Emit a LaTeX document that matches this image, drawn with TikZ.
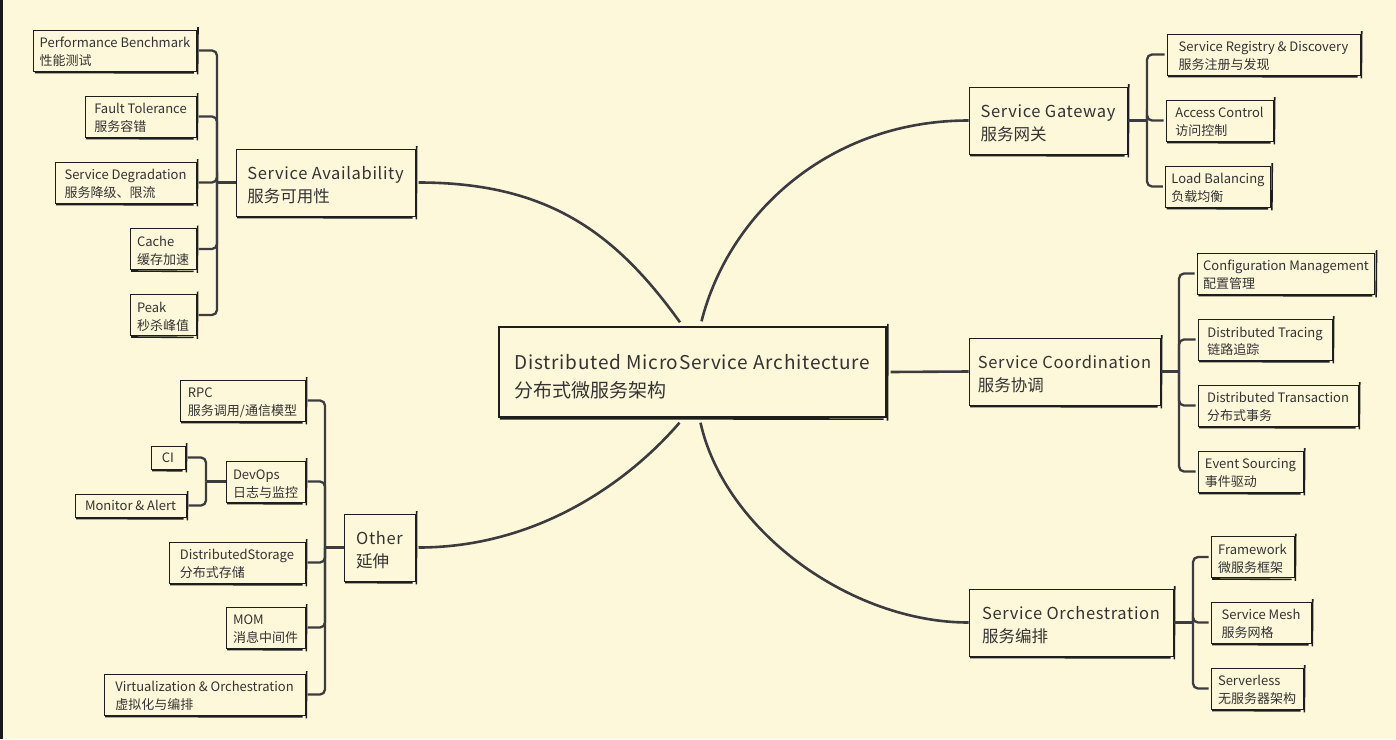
\documentclass[tikz,border=0pt]{standalone}
\usepackage{fontspec}
\setmainfont{Noto Sans CJK SC}
\newfontfamily\spaced{Noto Sans CJK SC}[LetterSpace=4]
\newcommand\wideline[1]{{\spaced #1}}
\definecolor{paper}{HTML}{FEF8DA}
\definecolor{ink}{HTML}{333333}
\definecolor{wire}{HTML}{3C3C40}
\definecolor{edgeline}{HTML}{1E1E1E}
\begin{document}
\begin{tikzpicture}[x=0.5pt, y=-0.5pt,
        skedge/.style={draw=edgeline, line width=0.8pt},
        sketchy/.style={draw=edgeline, line width=0.5pt, fill=paper, text=ink, align=left,
            inner xsep=3pt, inner ysep=0pt,
            append after command={
                ([shift={(0.6pt,1.2pt)}]\tikzlastnode.north east) edge[skedge] ([shift={(0.4pt,-1.4pt)}]\tikzlastnode.south east)
                ([shift={(0.8pt,-0.5pt)}]\tikzlastnode.south west) edge[skedge] ([shift={(-1.5pt,-0.7pt)}]\tikzlastnode.south east)}},
        leafbox/.style={sketchy, font=\fontsize{6.5}{9}\selectfont, minimum height=20.5pt,
            execute at begin node={\rule{0pt}{16pt}}},
        tagbox/.style={sketchy, font=\fontsize{6.5}{9}\selectfont, minimum height=11.5pt},
        topicbox/.style={sketchy, font=\fontsize{8.25}{11.5}\selectfont, minimum height=33.5pt,
            execute at begin node={\rule{0pt}{20.4pt}}},
        rootbox/.style={sketchy, font=\fontsize{9.5}{13.75}\selectfont, minimum height=45pt, line width=0.7pt,
            execute at begin node={\rule{0pt}{26pt}}},
        branch/.style={draw=wire, line width=1.15pt, rounded corners=2.5pt},
        curve/.style={draw=wire, line width=1.3pt}]

    \fill[paper] (0,0) rectangle (1396,739);
    \useasboundingbox (0,0) rectangle (1396,739);
    \fill[black!90] (0,0) rectangle (2.5,739);

    % centre
    \node[rootbox, minimum width=193.5pt] (root) at (692.5,372) {\wideline{Distributed MicroService Architecture}\\分布式微服务架构};

    % service availability
    \node[topicbox, minimum width=89.5pt] (sa) at (325.5,182.5) {\wideline{Service Availability}\\服务可用性};
    \node[leafbox, minimum width=81pt] (pb) at (115,50.5) {Performance Benchmark\\性能测试};
    \node[leafbox, minimum width=55.5pt] (ft) at (140.5,116.5) {Fault Tolerance\\服务容错};
    \node[leafbox, minimum width=70.5pt] (sd) at (125.5,182.5) {Service Degradation\\服务降级、限流};
    \node[leafbox, minimum width=33pt] (cache) at (163,249) {Cache\\缓存加速};
    \node[leafbox, minimum width=33pt] (peak) at (163,315) {Peak\\秒杀峰值};

    % other
    \node[topicbox, minimum width=35.5pt] (other) at (379.5,547.5) {\wideline{Other}\\延伸};
    \node[leafbox, minimum width=62.5pt] (rpc) at (242.5,400.5) {RPC\\服务调用/通信模型};
    \node[leafbox, minimum width=39.5pt] (devops) at (265.5,481.5) {DevOps\\日志与监控};
    \node[tagbox, minimum width=17pt] (ci) at (168,457.5) {CI};
    \node[tagbox, minimum width=55.5pt] (ma) at (130.5,505.5) {Monitor \& Alert};
    \node[leafbox, minimum width=68pt] (ds) at (237,562.5) {DistributedStorage\\分布式存储};
    \node[leafbox, minimum width=39.5pt] (mom) at (265.5,627.5) {MOM\\消息中间件};
    \node[leafbox, minimum width=100.5pt] (vo) at (204.5,694.5) {Virtualization \& Orchestration\\虚拟化与编排};

    % gateway
    \node[topicbox, minimum width=79pt] (gw) at (1048,120.5) {\wideline{Service Gateway}\\服务网关};
    \node[leafbox, minimum width=96.5pt] (srd) at (1263.5,54.5) {Service Registry \& Discovery\\服务注册与发现};
    \node[leafbox, minimum width=53.5pt] (ac) at (1219.5,120.5) {Access Control\\访问控制};
    \node[leafbox, minimum width=52pt] (lb) at (1218,186.5) {Load Balancing\\负载均衡};

    % coordination
    \node[topicbox, minimum width=95.5pt] (coord) at (1064.5,371.5) {\wideline{Service Coordination}\\服务协调};
    \node[leafbox, minimum width=88pt] (cm) at (1286,273.5) {Configuration Management\\配置管理};
    \node[leafbox, minimum width=67pt] (dt) at (1265,339.5) {Distributed Tracing\\链路追踪};
    \node[leafbox, minimum width=80pt] (dtx) at (1278,405.5) {Distributed Transaction\\分布式事务};
    \node[leafbox, minimum width=52.5pt] (es) at (1250.5,471.5) {Event Sourcing\\事件驱动};

    % orchestration
    \node[topicbox, minimum width=102pt] (orch) at (1071,622.5) {\wideline{Service Orchestration}\\服务编排};
    \node[leafbox, minimum width=41.5pt] (fw) at (1252.5,557) {Framework\\微服务框架};
    \node[leafbox, minimum width=50pt] (sm) at (1261,622.5) {Service Mesh\\服务网格};
    \node[leafbox, minimum width=46pt] (sl) at (1257,688.5) {Serverless\\无服务器架构};

    % main branches
    \draw[curve] ([xshift=1.5pt]sa.east) .. controls +(130,0) and +(-64,-89) .. ([xshift=-6.25pt,yshift=2pt]root.north);
    \draw[curve] ([xshift=1.5pt]other.east) .. controls +(120,0) and +(-50,58) .. ([xshift=-6.5pt,yshift=-2.5pt]root.south);
    \draw[curve] ([xshift=4.5pt,yshift=2.5pt]root.north) .. controls +(27,-107) and +(-140,0) .. (gw.west);
    \draw[curve] ([xshift=4pt,yshift=-2.5pt]root.south) .. controls +(24,108) and +(-118,0) .. (orch.west);
    \draw[curve] ([xshift=2pt]root.east) -- (coord.west);

    % brackets
    \coordinate (saj) at (217,182.5);
    \coordinate (otj) at (325,547.5);
    \coordinate (doj) at (206,481.5);
    \coordinate (gwj) at (1147,120.5);
    \coordinate (coj) at (1179,371.5);
    \coordinate (orj) at (1193,622.5);

    \draw[branch] (sa.west) -- (saj);
    \foreach \n in {pb,ft,sd,cache,peak}
        \draw[branch] (saj) |- ([xshift=1pt]\n.east);

    \draw[branch] (other.west) -- (otj);
    \foreach \n in {rpc,devops,ds,mom,vo}
        \draw[branch] (otj) |- ([xshift=1pt]\n.east);

    \draw[branch] (devops.west) -- (doj);
    \foreach \n in {ci,ma}
        \draw[branch] (doj) |- ([xshift=1pt]\n.east);

    \draw[branch] (gw.east) -- (gwj);
    \foreach \n in {srd,ac,lb}
        \draw[branch] (gwj) |- ([xshift=-1pt]\n.west);

    \draw[branch] (coord.east) -- (coj);
    \foreach \n in {cm,dt,dtx,es}
        \draw[branch] (coj) |- ([xshift=-1pt]\n.west);

    \draw[branch] (orch.east) -- (orj);
    \foreach \n in {fw,sm,sl}
        \draw[branch] (orj) |- ([xshift=-1pt]\n.west);
\end{tikzpicture}
\end{document}
